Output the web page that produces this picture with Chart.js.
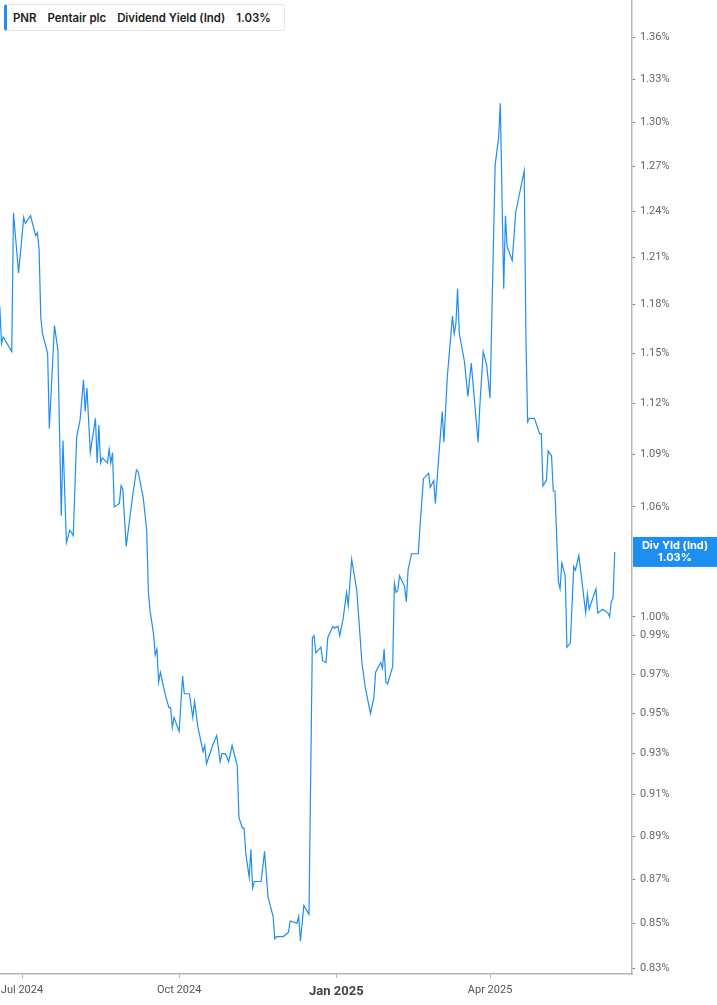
<!DOCTYPE html>
<html>
<head>
<meta charset="utf-8">
<script src="https://cdn.jsdelivr.net/npm/chart.js@4"></script>
<style>
  html, body { margin: 0; padding: 0; background: #fff; }
  #wrap { position: relative; width: 717px; height: 1005px; }
  #legendBox {
    position: absolute; left: 4px; top: 4px; height: 25px; padding: 0 13px 0 6px;
    border: 1px solid #e6e6e6; border-left: 3px solid #1f8ef1; border-radius: 3px;
    background: #fff; font: 600 11.4px Inter, "Noto Sans", sans-serif; color: #1b1b1b;
    display: flex; align-items: center; gap: 11px; white-space: nowrap;
  }
</style>
</head>
<body>
<div id="wrap">
  <canvas id="chart" width="717" height="1005"></canvas>
  <div id="legendBox"><span>PNR</span><span>Pentair plc</span><span>Dividend Yield (Ind)</span><span>1.03%</span></div>
</div>
<script>
// ========== Data ==========
// day offsets from 2024-07-01
const days = [
  -13, -12, -11, -6, -5, -2, 1, 2, 5, 8, 9, 10, 11, 12, 15, 16, 19, 21, 23, 24,
  26, 28, 30, 32, 34, 36, 37, 38, 40, 43, 44, 45, 46, 47, 50, 51, 52, 53, 54, 57,
  58, 59, 61, 65, 67, 68, 71, 73, 74, 75, 77, 78, 79, 80, 81, 84, 86, 87, 88, 89,
  92, 94, 95, 98, 100, 101, 103, 106, 107, 108, 112, 114, 116, 117, 119, 121, 123, 126, 127, 129,
  130, 131, 133, 134, 135, 136, 140, 142, 144, 147, 148, 149, 153, 156, 157, 161, 162, 163, 165, 168,
  170, 171, 172, 175, 176, 178, 179, 182, 183, 185, 186, 188, 190, 191, 193, 196, 199, 201, 204, 206,
  207, 210, 211, 212, 213, 214, 217, 218, 219, 220, 221, 224, 225, 226, 228, 232, 233, 235, 238, 239,
  241, 242, 244, 246, 247, 249, 252, 253, 254, 255, 256, 259, 261, 263, 267, 268, 270, 272, 274, 277,
  279, 280, 282, 283, 284, 287, 289, 294, 295, 296, 297, 300, 303, 304, 305, 307, 308, 310, 311, 312,
  314, 315, 316, 318, 319, 321, 323, 324, 326, 330, 331, 332, 336, 337, 340, 343, 344, 345, 346, 347
];
const yields = [
  1.179, 1.156, 1.160, 1.151, 1.239, 1.200, 1.236, 1.232, 1.237, 1.224, 1.226, 1.215, 1.172, 1.162, 1.150, 1.105, 1.167, 1.152, 1.055, 1.098,
  1.040, 1.047, 1.044, 1.100, 1.110, 1.134, 1.115, 1.129, 1.091, 1.111, 1.085, 1.107, 1.085, 1.088, 1.085, 1.093, 1.085, 1.091, 1.060, 1.062,
  1.072, 1.070, 1.038, 1.068, 1.081, 1.080, 1.065, 1.047, 1.013, 1.003, 0.991, 0.980, 0.983, 0.966, 0.971, 0.959, 0.953, 0.953, 0.943, 0.948,
  0.941, 0.969, 0.960, 0.960, 0.948, 0.956, 0.943, 0.931, 0.934, 0.925, 0.935, 0.939, 0.926, 0.930, 0.930, 0.926, 0.934, 0.924, 0.899, 0.894,
  0.894, 0.882, 0.871, 0.884, 0.866, 0.869, 0.869, 0.883, 0.862, 0.853, 0.843, 0.844, 0.844, 0.846, 0.851, 0.850, 0.853, 0.842, 0.858, 0.854,
  0.989, 0.990, 0.981, 0.984, 0.977, 0.976, 0.989, 0.995, 0.994, 0.995, 0.990, 0.999, 1.013, 1.006, 1.031, 1.014, 0.976, 0.963, 0.950, 0.958,
  0.971, 0.976, 0.973, 0.983, 0.966, 0.965, 0.974, 1.018, 1.013, 1.014, 1.022, 1.016, 1.008, 1.025, 1.034, 1.034, 1.049, 1.076, 1.079, 1.071,
  1.075, 1.062, 1.089, 1.115, 1.097, 1.136, 1.173, 1.162, 1.168, 1.190, 1.162, 1.145, 1.124, 1.144, 1.097, 1.118, 1.151, 1.143, 1.123, 1.271,
  1.289, 1.313, 1.190, 1.237, 1.217, 1.208, 1.239, 1.267, 1.160, 1.109, 1.111, 1.111, 1.102, 1.102, 1.072, 1.075, 1.092, 1.089, 1.069, 1.069,
  1.019, 1.015, 1.029, 1.022, 0.984, 0.986, 1.027, 1.025, 1.033, 1.002, 1.012, 1.004, 1.015, 1.002, 1.004, 1.002, 1.000, 1.008, 1.010, 1.035
];

const xTickDays = [0, 92, 184, 274];
const xTickLabels = ['Jul 2024', 'Oct 2024', 'Jan 2025', 'Apr 2025'];
const yTicks = [1.36, 1.33, 1.30, 1.27, 1.24, 1.21, 1.18, 1.15, 1.12, 1.09, 1.06, 1.03,
  1.00, 0.99, 0.97, 0.95, 0.93, 0.91, 0.89, 0.87, 0.85, 0.83];

const lineColor = '#1f8ef1';

// ========== Last value tag ==========
const lastTag = {
  id: 'lastTag',
  afterDraw(chart) {
    const { ctx, scales } = chart;
    const y = scales.y.getPixelForValue(yields[yields.length - 1]);
    const left = scales.y.left;
    ctx.save();
    ctx.fillStyle = lineColor;
    ctx.fillRect(left + 1, y - 15, chart.width - left - 1, 30);
    ctx.fillStyle = '#fff';
    ctx.font = 'bold 11px Inter, "Noto Sans", sans-serif';
    ctx.textAlign = 'center';
    ctx.textBaseline = 'middle';
    const cx = (left + 1 + chart.width) / 2;
    ctx.fillText('Div Yld (Ind)', cx, y - 6);
    ctx.fillText('1.03%', cx, y + 6);
    ctx.restore();
  }
};

function noPad(axis) {
  axis.paddingTop = 0;
  axis.paddingBottom = 0;
  axis.paddingLeft = 0;
  axis.paddingRight = 0;
}

// ========== Chart ==========
new Chart(document.getElementById('chart'), {
  type: 'line',
  data: {
    datasets: [{
      label: 'Div Yld (Ind)',
      data: days.map((d, i) => ({ x: d, y: yields[i] })),
      borderColor: lineColor,
      borderWidth: 1.2,
      pointRadius: 0,
      tension: 0,
      fill: false
    }]
  },
  options: {
    responsive: false,
    animation: false,
    devicePixelRatio: 1,
    layout: { padding: 0 },
    plugins: { legend: { display: false }, tooltip: { enabled: false } },
    scales: {
      x: {
        type: 'linear',
        min: -12.88,
        max: 357.1,
        afterFit: axis => { axis.height = 31; noPad(axis); },
        afterBuildTicks: axis => { axis.ticks = xTickDays.map(v => ({ value: v })); },
        border: { display: true, color: '#b5b5b5', width: 1.5 },
        grid: { drawOnChartArea: false, drawTicks: true, tickLength: 4, color: '#b5b5b5' },
        ticks: {
          autoSkip: false,
          maxRotation: 0,
          padding: 6,
          callback: v => xTickLabels[xTickDays.indexOf(v)],
          color: ctx => ctx.tick && ctx.tick.value === 184 ? '#444' : '#555',
          font: ctx => ctx.tick && ctx.tick.value === 184
            ? { family: 'Roboto, "Noto Sans", sans-serif', size: 13, weight: 'bold' }
            : { family: 'Roboto, "Noto Sans", sans-serif', size: 11 }
        }
      },
      y: {
        type: 'logarithmic',
        position: 'right',
        min: 0.8274,
        max: 1.387,
        afterFit: axis => { axis.width = 85; noPad(axis); },
        afterBuildTicks: axis => { axis.ticks = yTicks.map(v => ({ value: v })); },
        border: { display: true, color: '#b5b5b5', width: 1.5 },
        grid: { drawOnChartArea: false, drawTicks: true, tickLength: 3, color: '#777' },
        ticks: {
          autoSkip: false,
          padding: 5,
          callback: v => v.toFixed(2) + '%',
          color: '#666',
          font: { family: 'Roboto, "Noto Sans", sans-serif', size: 11 }
        }
      }
    }
  },
  plugins: [lastTag]
});
</script>
</body>
</html>
